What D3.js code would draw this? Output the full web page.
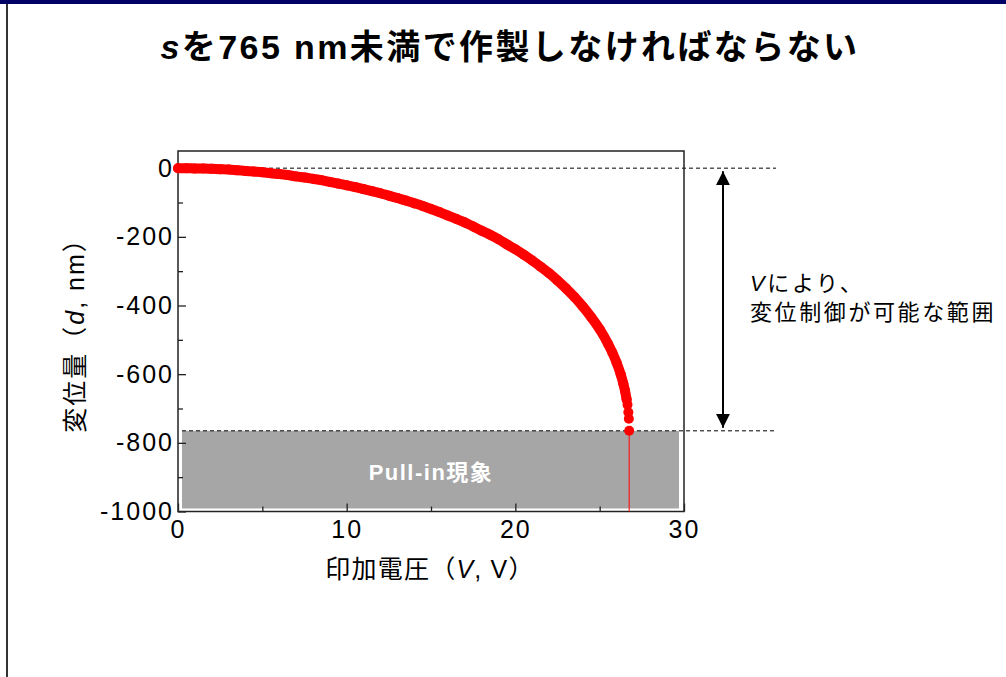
<!DOCTYPE html>
<html>
<head>
<meta charset="utf-8">
<script src="https://cdn.jsdelivr.net/npm/d3@7"></script>
<style>
  body { margin: 0; background: #fff; }
  svg { display: block; font-family: "Liberation Sans", Arial, "Noto Sans CJK JP", sans-serif; }
</style>
</head>
<body>
<svg id="chart"></svg>
<script>
// applied voltage (V) and displacement (nm)
const voltage = [0, 0.5, 1, 1.5, 2, 2.5, 3, 3.5, 4, 4.5, 5, 5.5, 6, 6.5, 7, 7.5, 8, 8.5, 9, 9.5,
  10, 10.5, 11, 11.5, 12, 12.5, 13, 13.5, 14, 14.5, 15, 15.5, 16, 16.5, 17, 17.5, 18, 18.5, 19, 19.5,
  20, 20.5, 21, 21.5, 22, 22.5, 23, 23.5, 24, 24.5, 25, 25.5,
  25.75, 26, 26.25, 26.4, 26.5, 26.6, 26.65, 26.7, 26.73, 26.75];
const displacement = [0, 0, -1, -1, -2, -3, -4, -6, -8, -10, -12, -15, -17, -20, -24, -27, -31, -35, -40, -45,
  -50, -55, -61, -67, -73, -80, -87, -94, -102, -110, -119, -128, -138, -148, -158, -170, -182, -194, -207, -222,
  -236, -252, -269, -287, -306, -327, -350, -375, -403, -434, -469, -512,
  -537, -566, -601, -627, -648, -674, -689, -711, -730, -765];

const xTicks = [0, 10, 20, 30];
const xMinorTicks = [5, 15, 25];
const yTicks = [0, -200, -400, -600, -800, -1000];
const yMinorTicks = [-100, -300, -500, -700, -900];

const pullInVoltage = 26.75;
const pullInDisplacement = -765;

const titleText = "を765 nm未満で作製しなければならない";
const xLabel = ["印加電圧（", "V", ", V）"];
const yLabel = ["変位量（", "d", ", nm）"];
const noteLine1 = ["V", "により、"];
const noteLine2 = "変位制御が可能な範囲";
const pullInText = "Pull-in現象";

const W = 1006, H = 677;
const svg = d3.select("#chart").attr("width", W).attr("height", H);

// slide frame
svg.append("rect").attr("x", 0).attr("y", 0).attr("width", W).attr("height", 4).attr("fill", "#000066");
svg.append("rect").attr("x", 6).attr("y", 4).attr("width", 2).attr("height", H - 4).attr("fill", "#333");

// title
const title = svg.append("text")
    .attr("x", 510).attr("y", 59)
    .attr("text-anchor", "middle")
    .attr("font-size", 34).attr("font-weight", "bold")
    .attr("letter-spacing", 2.4);
title.append("tspan").attr("font-style", "italic").text("s");
title.append("tspan").text(titleText);

const plot = {left: 178, right: 684, top: 151, bottom: 511.5};

const x = d3.scaleLinear().domain([0, 30]).range([plot.left, plot.right]);
const y = d3.scaleLinear().domain([-1000, 50]).range([plot.bottom, plot.top]);

// pull-in region
svg.append("rect")
    .attr("x", x(0) + 4)
    .attr("y", y(pullInDisplacement))
    .attr("width", x(30) - x(0) - 9)
    .attr("height", y(-1000) - y(pullInDisplacement) - 3)
    .attr("fill", "#a6a6a6");

svg.append("text")
    .attr("x", 431).attr("y", 480)
    .attr("text-anchor", "middle")
    .attr("fill", "#fff")
    .attr("font-size", 22).attr("font-weight", "bold")
    .attr("letter-spacing", 1.5)
    .text(pullInText);

// dashed guide lines
const guideEnd = plot.right + 92;
[0, pullInDisplacement].forEach(v => {
  svg.append("line")
      .attr("x1", v === 0 ? plot.left : x(0) + 4).attr("x2", guideEnd)
      .attr("y1", y(v)).attr("y2", y(v))
      .attr("stroke", "#000").attr("stroke-width", 1)
      .attr("stroke-dasharray", "4,3");
});

// frame
svg.append("rect")
    .attr("x", plot.left).attr("y", plot.top)
    .attr("width", plot.right - plot.left).attr("height", plot.bottom - plot.top)
    .attr("fill", "none").attr("stroke", "#222").attr("stroke-width", 1.5);

// axes
const axisFont = g => {
  g.select(".domain").remove();
  g.selectAll(".tick line").attr("stroke", "#222").attr("stroke-width", 1.3);
  g.selectAll(".tick text")
      .attr("font-size", 25).attr("fill", "#000")
      .attr("font-family", "'Liberation Sans', Arial, sans-serif")
      .attr("letter-spacing", 2);
};
const plain = d => String(d);

svg.append("g")
    .attr("transform", `translate(0,${plot.bottom})`)
    .call(d3.axisBottom(x).tickValues(xTicks).tickSize(-8).tickPadding(9).tickFormat(plain))
    .call(axisFont);
svg.append("g")
    .attr("transform", `translate(0,${plot.bottom})`)
    .call(d3.axisBottom(x).tickValues(xMinorTicks).tickSize(-5).tickFormat(""))
    .call(axisFont);
svg.append("g")
    .attr("transform", `translate(${plot.left},0)`)
    .call(d3.axisLeft(y).tickValues(yTicks).tickSize(-8).tickPadding(4).tickFormat(plain))
    .call(axisFont);
svg.append("g")
    .attr("transform", `translate(${plot.left},0)`)
    .call(d3.axisLeft(y).tickValues(yMinorTicks).tickSize(-5).tickFormat(""))
    .call(axisFont);

// data
const points = voltage.map((v, i) => ({v, d: displacement[i]}));

svg.append("line")
    .attr("x1", x(pullInVoltage)).attr("x2", x(pullInVoltage))
    .attr("y1", y(pullInDisplacement)).attr("y2", plot.bottom)
    .attr("stroke", "#ff0000").attr("stroke-width", 1);

const line = d3.line()
    .x(d => x(d.v))
    .y(d => y(d.d))
    .curve(d3.curveMonotoneX);

svg.append("path")
    .datum(points.filter(p => p.v <= 26.6))
    .attr("d", line)
    .attr("fill", "none")
    .attr("stroke", "#ff0000")
    .attr("stroke-width", 10)
    .attr("stroke-linecap", "round")
    .attr("stroke-linejoin", "round");

svg.append("g")
  .selectAll("circle")
    .data(points)
  .join("circle")
    .attr("cx", d => x(d.v))
    .attr("cy", d => y(d.d))
    .attr("r", 5)
    .attr("fill", "#ff0000");

// axis titles
const xTitle = svg.append("text")
    .attr("x", 430).attr("y", 578)
    .attr("text-anchor", "middle")
    .attr("font-size", 25).attr("letter-spacing", 1.2);
xTitle.append("tspan").text(xLabel[0]);
xTitle.append("tspan").attr("font-style", "italic").text(xLabel[1]);
xTitle.append("tspan").text(xLabel[2]);

const yTitle = svg.append("text")
    .attr("transform", "translate(84,329) rotate(-90)")
    .attr("text-anchor", "middle")
    .attr("font-size", 25).attr("letter-spacing", 2);
yTitle.append("tspan").text(yLabel[0]);
yTitle.append("tspan").attr("font-style", "italic").text(yLabel[1]);
yTitle.append("tspan").text(yLabel[2]);

// range arrow and note
const arrowX = plot.right + 39;
const defs = svg.append("defs");
defs.append("marker")
    .attr("id", "head")
    .attr("viewBox", "0 0 10 10")
    .attr("refX", 10).attr("refY", 5)
    .attr("markerWidth", 14).attr("markerHeight", 14)
    .attr("markerUnits", "userSpaceOnUse")
    .attr("orient", "auto-start-reverse")
  .append("path")
    .attr("d", "M0,0L10,5L0,10Z")
    .attr("fill", "#000");

svg.append("line")
    .attr("x1", arrowX).attr("x2", arrowX)
    .attr("y1", y(0) + 3).attr("y2", y(pullInDisplacement) - 3)
    .attr("stroke", "#000").attr("stroke-width", 2)
    .attr("marker-start", "url(#head)")
    .attr("marker-end", "url(#head)");

const note1 = svg.append("text")
    .attr("x", 750).attr("y", 291)
    .attr("font-size", 22).attr("letter-spacing", 2.6);
note1.append("tspan").attr("font-style", "italic").text(noteLine1[0]);
note1.append("tspan").text(noteLine1[1]);

svg.append("text")
    .attr("x", 750).attr("y", 320)
    .attr("font-size", 22).attr("letter-spacing", 2.6)
    .text(noteLine2);
</script>
</body>
</html>
